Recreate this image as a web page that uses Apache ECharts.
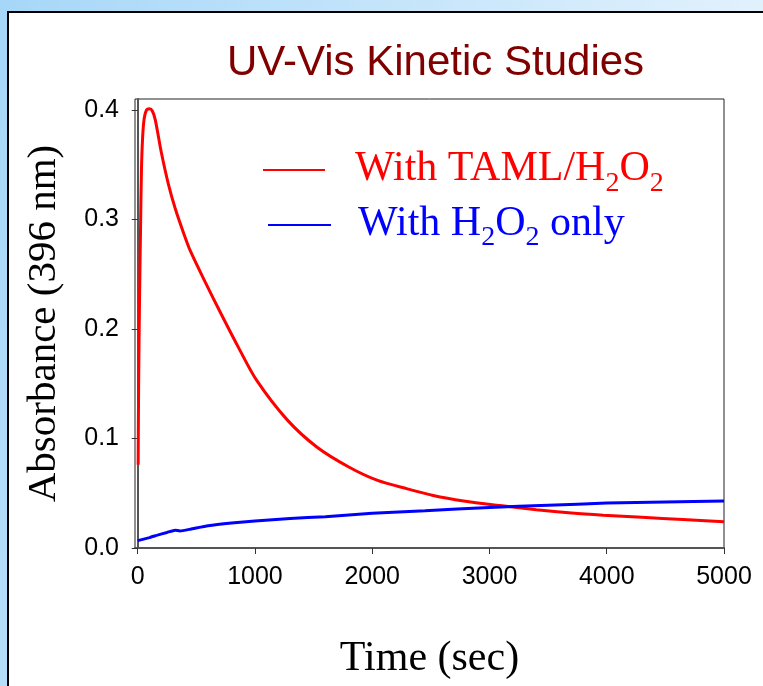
<!DOCTYPE html>
<html>
<head>
<meta charset="utf-8">
<script src="https://cdn.jsdelivr.net/npm/echarts@6/dist/echarts.min.js"></script>
<style>
html, body { margin: 0; padding: 0; }
#main { width: 763px; height: 686px; }
</style>
</head>
<body>
<div id="main"></div>
<script>
// with TAML/H2O2 (red)
var tamlTime = [4, 8, 16, 24, 32, 42, 55, 75, 100, 125, 150, 200, 260, 320, 400, 450, 575, 715, 860, 1015, 1275, 1530, 1800, 2040, 2300, 2520, 2780, 3070, 3400, 3700, 3970, 4300, 4650, 5000];
var tamlAbs = [0.076, 0.15, 0.23, 0.29, 0.345, 0.375, 0.392, 0.4, 0.401, 0.399, 0.391, 0.362, 0.333, 0.310, 0.285, 0.271, 0.243, 0.213, 0.183, 0.153, 0.117, 0.092, 0.074, 0.062, 0.054, 0.048, 0.043, 0.039, 0.035, 0.032, 0.030, 0.028, 0.026, 0.024];
// with H2O2 only (blue)
var h2o2Time = [0, 100, 176, 250, 320, 360, 450, 600, 800, 1000, 1300, 1600, 2000, 2450, 3000, 3500, 4000, 4500, 5000];
var h2o2Abs = [0.0067, 0.0095, 0.012, 0.0142, 0.0163, 0.0156, 0.0172, 0.0203, 0.0228, 0.0247, 0.027, 0.0286, 0.0317, 0.034, 0.037, 0.039, 0.041, 0.042, 0.043];

var xTicks = [0, 1000, 2000, 3000, 4000, 5000];
var yTicks = [0, 0.1, 0.2, 0.3, 0.4];

function pairs(xs, ys) {
	var out = [];
	for (var i = 0; i < xs.length; i++) {
		out.push([xs[i], ys[i]]);
	}
	return out;
}

var serif = "'Liberation Serif', 'Times New Roman', serif";
var sans = "'Liberation Sans', Arial, sans-serif";

// legend text with subscripts
function legendText(name) {
	if (name == 'With TAML/H2O2') {
		return '{n|With TAML/H}{s|2}{n|O}{s|2}';
	}
	return '{n|With H}{s|2}{n|O}{s|2}{n| only}';
}

function richStyle(size, sub, drop) {
	return {
		n : { fontSize : size, fontFamily : serif, verticalAlign : 'top', lineHeight : size + 2 },
		s : { fontSize : sub, fontFamily : serif, verticalAlign : 'top', lineHeight : sub + 2, padding : [ drop, 0, 0, 0 ] }
	};
}

var myChart = echarts.init(document.getElementById('main'));

var option = {
	backgroundColor : new echarts.graphic.LinearGradient(0, 0, 1, 0.3, [
		{ offset : 0, color : '#a6d7f8' },
		{ offset : 1, color : '#e6f3fd' }
	]),
	animation : false,
	graphic : [ {
		type : 'rect',
		z : -10,
		shape : { x : 8, y : 12, width : 800, height : 700 },
		style : { fill : '#ffffff', stroke : '#000000', lineWidth : 2 }
	} ],
	title : {
		text : 'UV-Vis Kinetic Studies',
		left : 227,
		top : 42,
		padding : 0,
		textStyle : {
			color : '#800000',
			fontFamily : sans,
			fontSize : 42,
			fontWeight : 'normal'
		}
	},
	legend : [ {
		data : [ 'With TAML/H2O2' ],
		left : 263,
		top : 148,
		padding : 0,
		icon : 'rect',
		itemWidth : 62,
		itemHeight : 2,
		formatter : legendText,
		textStyle : {
			color : '#ff0000',
			padding : [ 0, 0, 0, 25 ],
			rich : richStyle(42, 28, 22)
		}
	}, {
		data : [ 'With H2O2 only' ],
		left : 268,
		top : 203,
		padding : 0,
		icon : 'rect',
		itemWidth : 63,
		itemHeight : 2,
		formatter : legendText,
		textStyle : {
			color : '#0000ff',
			padding : [ 0, 0, 0, 22 ],
			rich : richStyle(42, 28, 21)
		}
	} ],
	grid : {
		left : 135,
		right : 39,
		top : 99,
		bottom : 138,
		show : true,
		borderColor : '#222222',
		borderWidth : 1,
		backgroundColor : 'transparent'
	},
	xAxis : {
		type : 'value',
		min : -23,
		max : 5000,
		name : 'Time (sec)',
		nameLocation : 'middle',
		nameGap : 90,
		nameTextStyle : { fontFamily : serif, fontSize : 42, color : '#000000' },
		splitLine : { show : false },
		axisLine : { show : true, onZero : false, lineStyle : { color : '#555555', width : 2 } },
		axisTick : { show : true, customValues : xTicks, length : 6, lineStyle : { color : '#333333' } },
		axisLabel : {
			customValues : xTicks,
			margin : 17,
			fontFamily : sans,
			fontSize : 25,
			color : '#000000',
			formatter : function(v) {
				return String(v);
			}
		}
	},
	yAxis : {
		type : 'value',
		min : 0,
		max : 0.41,
		name : 'Absorbance (396 nm)',
		nameLocation : 'middle',
		nameGap : 70,
		nameTextStyle : { fontFamily : serif, fontSize : 41, color : '#000000' },
		splitLine : { show : false },
		axisLine : { show : true, lineStyle : { color : '#555555', width : 2 } },
		axisTick : { show : true, customValues : yTicks, length : 6, lineStyle : { color : '#333333' } },
		axisLabel : {
			customValues : yTicks,
			margin : 16,
			fontFamily : sans,
			fontSize : 25,
			color : '#000000',
			formatter : function(v) {
				return v.toFixed(1);
			}
		}
	},
	series : [ {
		name : 'With TAML/H2O2',
		type : 'line',
		symbol : 'none',
		smooth : 0.3,
		color : '#ff0000',
		lineStyle : { width : 3, color : '#ff0000' },
		data : pairs(tamlTime, tamlAbs)
	}, {
		name : 'With H2O2 only',
		type : 'line',
		symbol : 'none',
		smooth : 0.15,
		color : '#0000ff',
		lineStyle : { width : 3, color : '#0000ff' },
		data : pairs(h2o2Time, h2o2Abs)
	} ]
};
myChart.setOption(option);
</script>
</body>
</html>
